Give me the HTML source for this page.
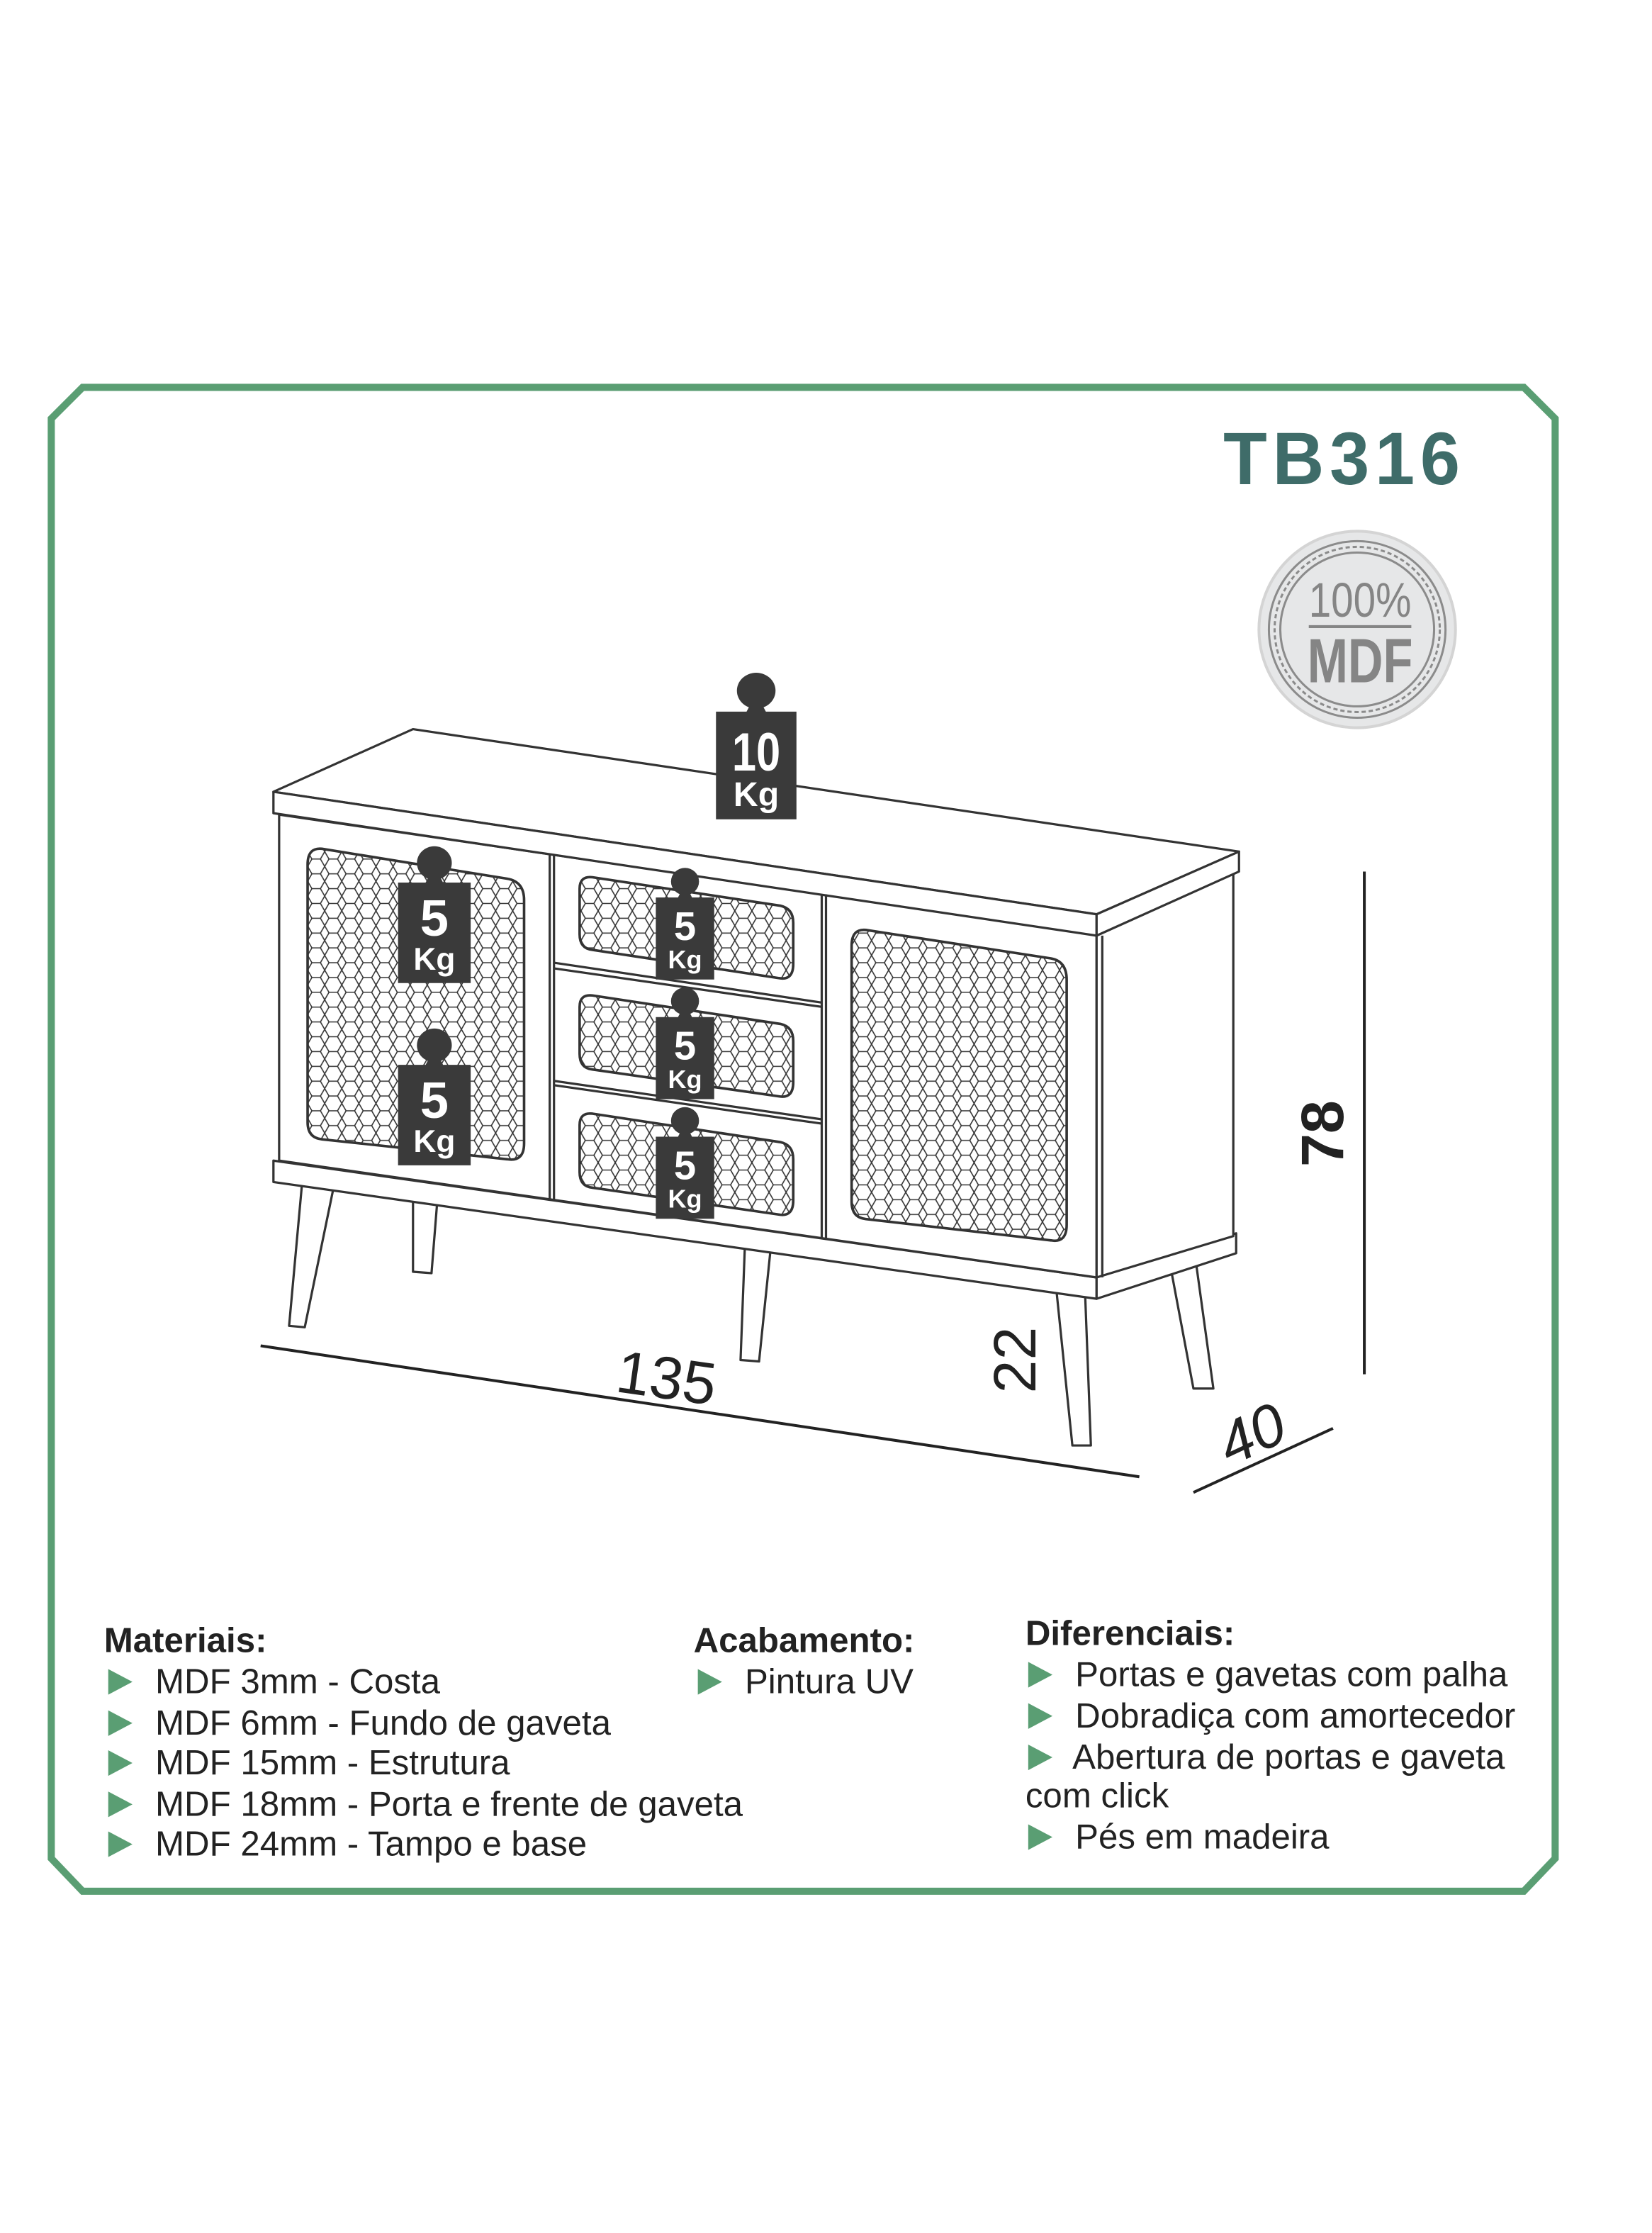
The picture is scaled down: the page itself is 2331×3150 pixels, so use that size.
<!DOCTYPE html>
<html><head><meta charset="utf-8"><style>
html,body{margin:0;padding:0;background:#fff;width:2331px;height:3150px;overflow:hidden}
svg{display:block}
text{font-family:"Liberation Sans",sans-serif}
</style></head><body>
<svg width="2331" height="3150" viewBox="0 0 1160 1568" preserveAspectRatio="none" xmlns="http://www.w3.org/2000/svg">
<defs>
<pattern id="hex" width="12" height="10.4" patternUnits="userSpaceOnUse">
<path d="M0,5.2 L3,0 L9,0 L12,5.2 L9,10.4 L3,10.4 Z" fill="none" stroke="#333" stroke-width="0.8"/>
</pattern>
<g id="tag"><circle cx="0" cy="0" r="12"/><path d="M-25,14 L-6,14 L-4,10 L4,10 L6,14 L25,14 L25,86 L-25,86 Z"/></g>
</defs>
<path d="M58,272 L1070,272 L1092,294 L1092,1305 L1070,1328 L58,1328 L36,1305 L36,294 Z" fill="none" stroke="#5a9e73" stroke-width="5"/>
<text x="944" y="340" text-anchor="middle" font-size="52" font-weight="bold" fill="#3f6c69" letter-spacing="4" textLength="170" lengthAdjust="spacingAndGlyphs">TB316</text>
<circle cx="953" cy="442" r="69" fill="#e6e7e8" stroke="#d4d4d4" stroke-width="2"/>
<circle cx="953" cy="442" r="62" fill="none" stroke="#8b8b8b" stroke-width="1.5"/>
<circle cx="953" cy="442" r="58" fill="none" stroke="#8b8b8b" stroke-width="1.5" stroke-dasharray="3,2"/>
<circle cx="953" cy="442" r="54" fill="none" stroke="#8b8b8b" stroke-width="1.5"/>
<text x="955" y="433" text-anchor="middle" font-size="34" fill="#858585" textLength="72" lengthAdjust="spacingAndGlyphs">100%</text>
<line x1="919" y1="440" x2="991" y2="440" stroke="#858585" stroke-width="2"/>
<text x="955" y="479" text-anchor="middle" font-size="44" font-weight="bold" fill="#858585" textLength="74" lengthAdjust="spacingAndGlyphs">MDF</text>
<g fill="#fff" stroke="#333" stroke-width="1.6" stroke-linejoin="round">
<path d="M212,832 L234,835 L214,932 L203,931 Z"/>
<path d="M290,842 L307,844 L303,894 L290,893 Z"/>
<path d="M523,876 L541,878 L533,956 L520,955 Z"/>
<path d="M742,908 L762,910 L766,1015 L753,1015 Z"/>
<path d="M822,890 L840,888 L852,975 L838,975 Z"/>
<path d="M192,815 L770,897 L770,912 L192,830 Z"/>
<path d="M770,897 L868,866 L868,880 L770,912 Z"/>
<path d="M196,572 L770,656 L770,897 L196,815 Z"/>
<path d="M770,656 L866,612 L866,868 L770,897 Z"/>
<path d="M192,556 L290,512 L870,598 L770,642 Z"/>
<path d="M192,556 L770,642 L770,657 L192,571 Z"/>
<path d="M770,642 L870,598 L870,612 L770,657 Z"/>
<line x1="386" y1="600" x2="386" y2="843"/>
<line x1="389" y1="600" x2="389" y2="843"/>
<line x1="577" y1="628" x2="577" y2="870"/>
<line x1="580" y1="628" x2="580" y2="870"/>
<line x1="774" y1="657" x2="774" y2="897"/>
<path d="M389,676 L577,704 M389,680 L577,707"/>
<path d="M389,759 L577,786 M389,762 L577,789"/>
</g>
<g stroke="#333" stroke-width="1.8" fill="url(#hex)">
<path d="M226,596 L356,617 Q368,619 368,632 L368,803 Q368,816 356,814 L226,800 Q216,799 216,788 L216,607 Q216,595 226,596 Z"/>
<path d="M608,653 L738,673 Q749,675 749,688 L749,860 Q749,873 738,871 L608,856 Q598,855 598,844 L598,664 Q598,652 608,653 Z"/>
<path d="M416,616 L548,636 Q557,638 557,648 L557,677 Q557,688 548,687 L416,667 Q407,666 407,656 L407,624 Q407,615 416,616 Z"/>
<path d="M416,699 L548,719 Q557,721 557,731 L557,760 Q557,771 548,770 L416,751 Q407,750 407,740 L407,707 Q407,698 416,699 Z"/>
<path d="M416,782 L548,802 Q557,804 557,814 L557,843 Q557,854 548,853 L416,834 Q407,833 407,823 L407,790 Q407,781 416,782 Z"/>
</g>
<g fill="#3a3a3a">
<g transform="translate(531,485) scale(1.13,1.05)"><use href="#tag"/></g>
<g transform="translate(305,606) scale(1.02,0.98)"><use href="#tag"/></g>
<g transform="translate(305,734) scale(1.02,0.98)"><use href="#tag"/></g>
<g transform="translate(481,619) scale(0.82,0.8)"><use href="#tag"/></g>
<g transform="translate(481,703) scale(0.82,0.8)"><use href="#tag"/></g>
<g transform="translate(481,787) scale(0.82,0.8)"><use href="#tag"/></g>
</g>
<g fill="#fff" font-weight="bold" text-anchor="middle">
<text x="531" y="541" font-size="38" textLength="34" lengthAdjust="spacingAndGlyphs">10</text>
<text x="531" y="566" font-size="24">Kg</text>
<text x="305" y="657" font-size="36">5</text>
<text x="305" y="681" font-size="22">Kg</text>
<text x="305" y="785" font-size="36">5</text>
<text x="305" y="809" font-size="22">Kg</text>
<text x="481" y="660" font-size="28">5</text>
<text x="481" y="680" font-size="18">Kg</text>
<text x="481" y="744" font-size="28">5</text>
<text x="481" y="764" font-size="18">Kg</text>
<text x="481" y="828" font-size="28">5</text>
<text x="481" y="848" font-size="18">Kg</text>
</g>
<g stroke="#222" stroke-width="2">
<line x1="183" y1="945" x2="800" y2="1037"/>
<line x1="958" y1="612" x2="958" y2="965"/>
<line x1="838" y1="1048" x2="936" y2="1003"/>
</g>
<g fill="#222" font-size="42">
<text x="468" y="982" text-anchor="middle" transform="rotate(8 468 968)">135</text>
<text transform="translate(727,955) rotate(-90)" text-anchor="middle">22</text>
<text transform="translate(943,796) rotate(-90)" text-anchor="middle" font-weight="bold">78</text>
<text transform="translate(885,1020) rotate(-25)" text-anchor="middle" font-style="italic">40</text>
</g>
<g fill="#5a9e73">
<path d="M76,1172 L93,1181 L76,1190 Z"/><path d="M76,1201 L93,1210 L76,1219 Z"/><path d="M76,1229 L93,1238 L76,1247 Z"/><path d="M76,1258 L93,1267 L76,1276 Z"/><path d="M76,1286 L93,1295 L76,1304 Z"/>
<path d="M490,1172 L507,1181 L490,1190 Z"/>
<path d="M722,1167 L739,1176 L722,1185 Z"/><path d="M722,1196 L739,1205 L722,1214 Z"/><path d="M722,1225 L739,1234 L722,1243 Z"/><path d="M722,1281 L739,1290 L722,1299 Z"/>
</g>
<g fill="#222" font-size="24.5">
<text x="73" y="1160" font-weight="bold">Materiais:</text>
<text x="109" y="1189">MDF 3mm - Costa</text>
<text x="109" y="1218">MDF 6mm - Fundo de gaveta</text>
<text x="109" y="1246">MDF 15mm - Estrutura</text>
<text x="109" y="1275">MDF 18mm - Porta e frente de gaveta</text>
<text x="109" y="1303">MDF 24mm - Tampo e base</text>
<text x="487" y="1160" font-weight="bold">Acabamento:</text>
<text x="523" y="1189">Pintura UV</text>
<text x="720" y="1155" font-weight="bold">Diferenciais:</text>
<text x="755" y="1184">Portas e gavetas com palha</text>
<text x="755" y="1213">Dobradiça com amortecedor</text>
<text x="753" y="1242">Abertura de portas e gaveta</text>
<text x="720" y="1269">com click</text>
<text x="755" y="1298">Pés em madeira</text>
</g>
</svg>
</body></html>
